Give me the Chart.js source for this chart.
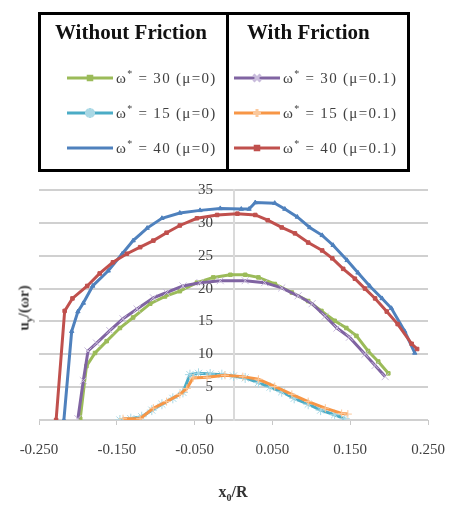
<!DOCTYPE html>
<html>
<head>
<meta charset="utf-8">
<script src="https://cdn.jsdelivr.net/npm/chart.js@4.4.0/dist/chart.umd.min.js"></script>
<style>
body{margin:0;background:#fff;font-family:"Liberation Serif","Times New Roman",serif;}
#wrap{position:relative;width:451px;height:505px;overflow:hidden;}
#chart{position:absolute;left:0;top:0;}
#legend{position:absolute;left:38px;top:12px;width:366px;height:154px;border:3px solid #000;}
#divider{position:absolute;left:185px;top:0;width:3px;height:154px;background:#000;}
.hdr{position:absolute;top:5px;font-weight:bold;font-size:21px;color:#111;white-space:nowrap;}
.row{position:absolute;display:flex;align-items:center;font-size:15px;letter-spacing:1.3px;color:#404040;white-space:nowrap;}
.row canvas{margin-right:3px;}
.row sup{font-size:10px;}
#ytitle{position:absolute;left:25px;top:308px;transform:translate(-50%,-50%) rotate(-90deg);font-size:15px;font-weight:bold;color:#333;white-space:nowrap;}
#xtitle{position:absolute;left:233px;top:493px;transform:translate(-50%,-50%);font-size:16px;font-weight:bold;color:#333;white-space:nowrap;}
sub{font-size:10px;}
</style>
</head>
<body>
<div id="wrap">
  <canvas id="chart" width="451" height="505"></canvas>
  <div id="legend"><div id="divider"></div></div>
  <div id="ytitle">u<sub>y</sub>/(ωr)</div>
  <div id="xtitle">x<sub>0</sub>/R</div>
</div>
<script>
// axis ticks
const xTickValues = [-0.25, -0.15, -0.05, 0.05, 0.15, 0.25];
const yTickStep = 5;

// legend text
const groupTitles = ['Without Friction', 'With Friction'];
const seriesLabels = ['ω* = 30 (μ=0)', 'ω* = 15 (μ=0)', 'ω* = 40 (μ=0)',
                      'ω* = 30 (μ=0.1)', 'ω* = 15 (μ=0.1)', 'ω* = 40 (μ=0.1)'];

// ω*=30, μ=0 (green)
const xGreen = [-0.197,-0.189,-0.178,-0.163,-0.146,-0.129,-0.107,-0.088,-0.069,-0.047,-0.026,-0.004,0.015,0.032,0.053,0.075,0.096,0.113,0.13,0.145,0.158,0.173,0.186,0.199];
const yGreen = [0.2,8.2,10.2,12.0,14.0,15.6,17.7,18.8,19.6,20.9,21.7,22.1,22.1,21.7,20.7,19.4,18.1,16.6,15.1,14.0,12.8,10.5,8.9,7.1];

// ω*=15, μ=0 (light blue)
const xCyan = [-0.146,-0.132,-0.118,-0.105,-0.092,-0.078,-0.065,-0.056,-0.045,-0.03,-0.015,0,0.015,0.032,0.047,0.062,0.078,0.096,0.112,0.13,0.143];
const yCyan = [0,0.2,0.5,1.5,2.4,3.3,4.2,6.9,7.1,7.0,6.9,6.7,6.4,5.7,5.0,4.3,3.3,2.4,1.5,0.8,0.2];

// ω*=40, μ=0 (blue)
const xBlue = [-0.218,-0.208,-0.2,-0.193,-0.181,-0.161,-0.143,-0.129,-0.111,-0.092,-0.069,-0.043,-0.017,0.01,0.02,0.028,0.053,0.066,0.082,0.098,0.114,0.128,0.146,0.16,0.175,0.191,0.203,0.22,0.233];
const yBlue = [0,13.5,16.5,17.8,20.4,22.7,25.3,27.3,29.2,30.7,31.5,31.9,32.2,32.1,32.1,33.1,33.0,32.1,30.9,29.3,28.1,26.6,24.3,22.4,20.4,18.5,17.0,13.5,10.2];

// ω*=30, μ=0.1 (purple)
const xPurple = [-0.2,-0.193,-0.187,-0.176,-0.159,-0.142,-0.124,-0.103,-0.086,-0.065,-0.043,-0.017,0.015,0.04,0.062,0.083,0.101,0.118,0.133,0.149,0.169,0.182,0.195];
const yPurple = [0.2,6.0,10.5,11.7,13.6,15.4,16.9,18.6,19.4,20.4,20.9,21.2,21.2,20.9,20.1,18.9,17.7,15.8,14.0,12.6,10.0,8.3,6.6];

// ω*=15, μ=0.1 (orange)
const xOrange = [-0.142,-0.12,-0.103,-0.086,-0.069,-0.06,-0.052,-0.034,-0.011,0.012,0.032,0.053,0.075,0.096,0.118,0.139,0.147];
const yOrange = [0.2,0.2,1.8,2.8,3.9,4.8,6.4,6.5,6.8,6.6,6.2,5.1,3.9,2.8,1.8,1.0,0.9];

// ω*=40, μ=0.1 (red)
const xRed = [-0.228,-0.217,-0.207,-0.188,-0.172,-0.155,-0.137,-0.12,-0.103,-0.086,-0.069,-0.047,-0.021,0.005,0.028,0.044,0.062,0.079,0.096,0.114,0.127,0.141,0.156,0.169,0.182,0.197,0.211,0.229,0.236];
const yRed = [0,16.6,18.5,20.4,22.3,24.0,25.3,26.3,27.3,28.5,29.6,30.7,31.2,31.4,31.2,30.4,29.3,28.4,27.0,25.8,24.6,23.0,21.5,20.0,18.5,16.5,14.6,11.6,10.8];

const pts = (xs, ys) => xs.map((x, i) => ({x, y: ys[i]}));

const styles = [
  {line:'#9BBB59', mark:'#9BBB59', point:'rect', r:2.5, fill:true},
  {line:'#4BACC6', mark:'#a9d8e5', point:'star', r:5, fill:false},
  {line:'#4F81BD', mark:'#4F81BD', point:'triangle', r:2.5, fill:true},
  {line:'#8064A2', mark:'#c9bcdc', point:'crossRot', r:5, fill:false},
  {line:'#F79646', mark:'#fbc89b', point:'cross', r:4, fill:false},
  {line:'#C0504D', mark:'#C0504D', point:'rect', r:2.5, fill:true}
];
const seriesData = [pts(xGreen,yGreen), pts(xCyan,yCyan), pts(xBlue,yBlue),
                    pts(xPurple,yPurple), pts(xOrange,yOrange), pts(xRed,yRed)];

const datasets = seriesData.map((d, i) => ({
  label: seriesLabels[i],
  data: d,
  showLine: true,
  borderColor: styles[i].line,
  borderWidth: 3,
  pointStyle: styles[i].point,
  pointRadius: styles[i].r,
  pointBorderColor: styles[i].mark,
  pointBackgroundColor: styles[i].fill ? styles[i].mark : 'rgba(0,0,0,0)',
  pointBorderWidth: 1,
  order: 6 - i
}));

const tickFont = {family: '"Liberation Serif", serif', size: 15};

new Chart(document.getElementById('chart'), {
  type: 'scatter',
  data: {datasets},
  options: {
    responsive: false,
    animation: false,
    layout: {padding: {left: 39, right: 23, top: 190, bottom: 30}},
    plugins: {legend: {display: false}, tooltip: {enabled: false}},
    scales: {
      x: {
        type: 'linear', min: -0.25, max: 0.25,
        afterBuildTicks: s => { s.ticks = xTickValues.map(v => ({value: v})); },
        // end labels may hang into the layout padding
        afterFit: s => { s.paddingLeft = 0; s.paddingRight = 0; },
        grid: {drawOnChartArea: false, drawTicks: true, tickLength: 5, color: '#c8c8c8', lineWidth: 1},
        border: {display: false},
        ticks: {font: tickFont, color: '#404040', padding: 16, maxRotation: 0, autoSkip: false,
                callback: v => v.toFixed(3)}
      },
      // gridlines and the vertical axis line through x = 0
      y: {
        type: 'linear', min: 0, max: 35,
        position: {x: 0},
        grid: {color: '#d0d0d0', lineWidth: 2, drawTicks: false},
        border: {display: true, color: '#dadada', width: 2},
        ticks: {stepSize: yTickStep, display: false}
      },
      // tick labels, set a little left of the axis line
      yl: {
        type: 'linear', min: 0, max: 35,
        position: {x: -0.0265},
        grid: {display: false},
        border: {display: false},
        ticks: {stepSize: yTickStep, font: tickFont, color: '#404040'}
      }
    }
  }
});

// legend (HTML, two groups)
const legend = document.getElementById('legend');
function sample(i) {
  const c = document.createElement('canvas');
  c.width = 46; c.height = 12;
  const ctx = c.getContext('2d');
  ctx.strokeStyle = styles[i].line; ctx.lineWidth = 3;
  ctx.beginPath(); ctx.moveTo(0, 6); ctx.lineTo(46, 6); ctx.stroke();
  const o = {pointStyle: styles[i].point, radius: styles[i].r, borderWidth: 1};
  ctx.strokeStyle = styles[i].mark;
  ctx.fillStyle = styles[i].fill ? styles[i].mark : 'rgba(0,0,0,0)';
  if (i !== 2 && Chart.helpers && Chart.helpers.drawPoint) Chart.helpers.drawPoint(ctx, o, 23, 6);
  return c;
}
groupTitles.forEach((t, g) => {
  const h = document.createElement('div');
  h.className = 'hdr'; h.textContent = t;
  h.style.left = (g === 0 ? 14 : 206) + 'px';
  legend.appendChild(h);
  for (let k = 0; k < 3; k++) {
    const i = g * 3 + k;
    const r = document.createElement('div');
    r.className = 'row';
    r.style.left = (g === 0 ? 26 : 193) + 'px';
    r.style.top = (53 + k * 35) + 'px';
    r.appendChild(sample(i));
    const s = document.createElement('span');
    const parts = seriesLabels[i].split('*');
    s.innerHTML = parts[0] + '<sup>*</sup>' + parts[1];
    r.appendChild(s);
    legend.appendChild(r);
  }
});
</script>
</body>
</html>
